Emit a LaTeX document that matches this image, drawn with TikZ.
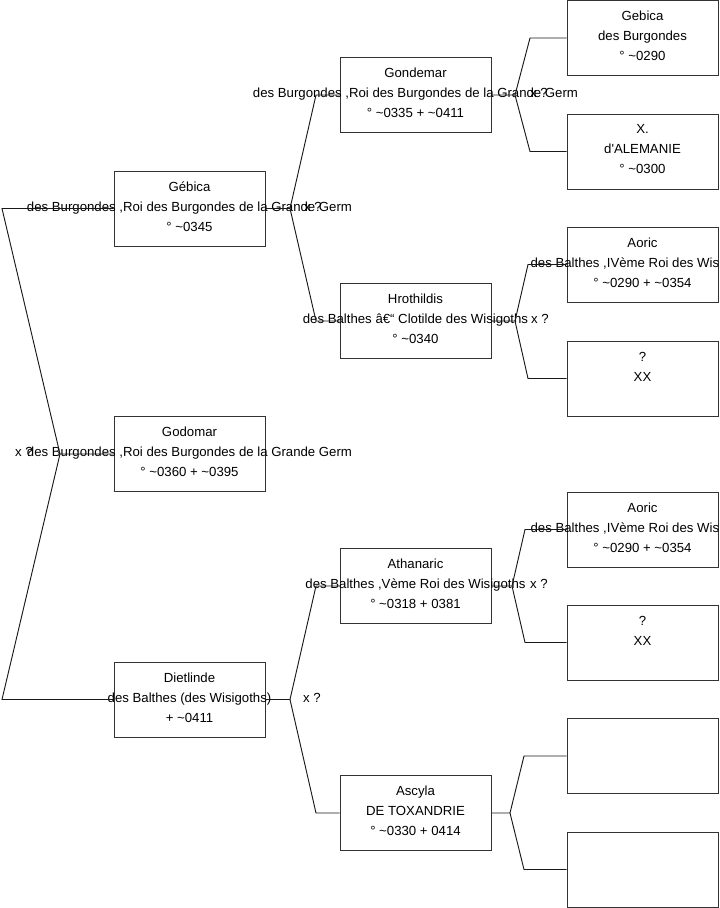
\documentclass[tikz,border=0pt]{standalone}
\usepackage{fontspec}
\setmainfont{Liberation Sans}

\tikzset{
    person/.style={draw=black!80, line width=0.7pt, minimum width=113.25pt, minimum height=56.25pt, inner sep=0pt},
    who/.style={align=center, font=\fontsize{9.9pt}{15pt}\selectfont, inner sep=0pt, yshift=1.5pt},
    union/.style={font=\fontsize{9.9pt}{15pt}\selectfont, inner sep=0pt},
    branch/.style={line width=0.7pt, black!90}
}

\begin{document}
\begin{tikzpicture}[x=0.75pt, y=-0.75pt]
        \useasboundingbox (0,0) rectangle (719,908);
        %boxes
            \node[person] (gebica) at (189.5,208.5) {};
            \node[person] (godomar) at (189.5,454) {};
            \node[person] (dietlinde) at (189.5,699.5) {};
            \node[person] (gondemar) at (415.5,95) {};
            \node[person] (hrothildis) at (415.5,321) {};
            \node[person] (athanaric) at (415.5,586) {};
            \node[person] (ascyla) at (415.5,813) {};
            \node[person] (gebicaB) at (642.5,38) {};
            \node[person] (xalem) at (642.5,151.5) {};
            \node[person] (aoricA) at (642.5,264.5) {};
            \node[person] (unknA) at (642.5,378.5) {};
            \node[person] (aoricB) at (642.5,529.5) {};
            \node[person] (unknB) at (642.5,642.5) {};
            \node[person] (emptyA) at (642.5,756) {};
            \node[person] (emptyB) at (642.5,869.5) {};
        %names
            \node[who] (tgebica) at (gebica) {Gébica\\des Burgondes ,Roi des Burgondes de la Grande Germ\\° \textasciitilde0345};
            \node[who] (tgodomar) at (godomar) {Godomar\\des Burgondes ,Roi des Burgondes de la Grande Germ\\° \textasciitilde0360 + \textasciitilde0395};
            \node[who] (tdietlinde) at (dietlinde) {Dietlinde\\des Balthes (des Wisigoths)\\+ \textasciitilde0411};
            \node[who] (tgondemar) at (gondemar) {Gondemar\\des Burgondes ,Roi des Burgondes de la Grande Germ\\° \textasciitilde0335 + \textasciitilde0411};
            \node[who] (throthildis) at (hrothildis) {Hrothildis\\des Balthes â€\textquotedblleft\ Clotilde des Wisigoths\\° \textasciitilde0340};
            \node[who] (tathanaric) at (athanaric) {Athanaric\\des Balthes ,Vème Roi des Wisigoths\\° \textasciitilde0318 + 0381};
            \node[who] (tascyla) at (ascyla) {Ascyla\\DE TOXANDRIE\\° \textasciitilde0330 + 0414};
            \node[who] (tgebicaB) at (gebicaB) {Gebica\\des Burgondes\\° \textasciitilde0290};
            \node[who] (txalem) at (xalem) {X.\\d\textquotesingle ALEMANIE\\° \textasciitilde0300};
            \node[who] (taoricA) at (aoricA) {Aoric\\des Balthes ,IVème Roi des Wis\phantom{igoths}\\° \textasciitilde0290 + \textasciitilde0354};
            \node[who] (tunknA) at (unknA) {?\\XX\\\mbox{}};
            \node[who] (taoricB) at (aoricB) {Aoric\\des Balthes ,IVème Roi des Wis\phantom{igoths}\\° \textasciitilde0290 + \textasciitilde0354};
            \node[who] (tunknB) at (unknB) {?\\XX\\\mbox{}};
        % forks
            \coordinate (froot) at (60,454);
            \coordinate (frootup) at (2,208.5);
            \coordinate (frootdn) at (2,699.5);
            \coordinate (fgeb) at (290,208.5);
            \coordinate (fgebup) at (316,95);
            \coordinate (fgebdn) at (316,321);
            \coordinate (fdie) at (290,699.5);
            \coordinate (fdieup) at (316,586);
            \coordinate (fdiedn) at (316,813);
            \coordinate (fgon) at (515,95);
            \coordinate (fgonup) at (530,38);
            \coordinate (fgondn) at (530,151.5);
            \coordinate (fhro) at (515,321);
            \coordinate (fhroup) at (528,264.5);
            \coordinate (fhrodn) at (528,378.5);
            \coordinate (fath) at (512,586);
            \coordinate (fathup) at (525,529.5);
            \coordinate (fathdn) at (525,642.5);
            \coordinate (fasc) at (510,813);
            \coordinate (fascup) at (524,756);
            \coordinate (fascdn) at (524,869.5);
        % lines
            \draw[branch] (godomar.west) -- (froot) -- (frootup) -- (gebica.west);
            \draw[branch] (froot) -- (frootdn) -- (dietlinde.west);
            \draw[branch] (gebica.east) -- (fgeb) -- (fgebup) -- (gondemar.west);
            \draw[branch] (fgeb) -- (fgebdn) -- (hrothildis.west);
            \draw[branch] (dietlinde.east) -- (fdie) -- (fdieup) -- (athanaric.west);
            \draw[branch] (fdie) -- (fdiedn) -- (ascyla.west);
            \draw[branch] (gondemar.east) -- (fgon) -- (fgonup) -- (gebicaB.west);
            \draw[branch] (fgon) -- (fgondn) -- (xalem.west);
            \draw[branch] (hrothildis.east) -- (fhro) -- (fhroup) -- (aoricA.west);
            \draw[branch] (fhro) -- (fhrodn) -- (unknA.west);
            \draw[branch] (athanaric.east) -- (fath) -- (fathup) -- (aoricB.west);
            \draw[branch] (fath) -- (fathdn) -- (unknB.west);
            \draw[branch] (ascyla.east) -- (fasc) -- (fascup) -- (emptyA.west);
            \draw[branch] (fasc) -- (fascdn) -- (emptyB.west);
        % unions
            \node[union] (uroot) at (24,452) {x ?};
            \node[union] (ugeb) at (313,206.5) {x ?};
            \node[union] (udie) at (312,697.5) {x ?};
            \node[union] (ugon) at (539,93) {x ?};
            \node[union] (uhro) at (540,319) {x ?};
            \node[union] (uath) at (539,584) {x ?};
    \end{tikzpicture}
\end{document}
